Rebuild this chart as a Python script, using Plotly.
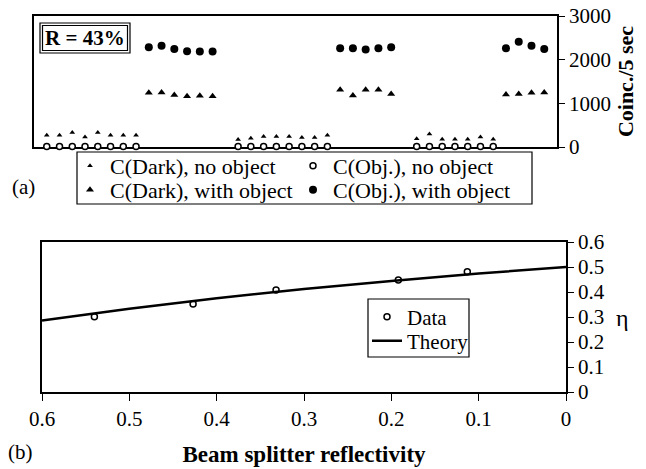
import plotly.graph_objects as go

# ---- Panel (a) data ----
run_no_obj = [0, 1, 2, 3, 4, 5, 6, 7,
              15, 16, 17, 18, 19, 20, 21, 22,
              29, 30, 31, 32, 33, 34, 35]
dark_no_obj = [268, 268, 330, 230, 330, 268, 268, 268,
               170, 200, 240, 240, 240, 220, 220, 270,
               190, 300, 180, 180, 180, 230, 180]
obj_no_obj = [10, 10, 10, 10, 10, 10, 10, 10,
              10, 10, 10, 10, 10, 10, 10, 10,
              10, 10, 10, 10, 10, 10, 10]

run_with_obj = [8, 9, 10, 11, 12, 13,
                23, 24, 25, 26, 27,
                36, 37, 38, 39]
dark_with_obj = [1240, 1250, 1190, 1160, 1175, 1160,
                 1310, 1180, 1310, 1310, 1215,
                 1200, 1215, 1240, 1250]
obj_with_obj = [2285, 2320, 2245, 2190, 2185, 2185,
                2260, 2260, 2230, 2260, 2285,
                2260, 2410, 2320, 2245]

coinc_ticks = [0, 1000, 2000, 3000]

# ---- Panel (b) data ----
R_data = [0.540, 0.427, 0.332, 0.192, 0.113]
eta_data = [0.301, 0.352, 0.408, 0.448, 0.481]
R_theory = [0.6, 0.5, 0.4, 0.3, 0.2, 0.1, 0.0]
eta_theory = [0.286, 0.333, 0.375, 0.412, 0.444, 0.474, 0.500]
R_ticks = [0.6, 0.5, 0.4, 0.3, 0.2, 0.1, 0]
eta_ticks = [0, 0.1, 0.2, 0.3, 0.4, 0.5, 0.6]

W, H = 646, 469
FONT = "Liberation Serif"


def px(x):
    return x / W


def py(y):
    return 1 - y / H


fig = go.Figure()

fig.add_trace(go.Scatter(
    x=run_no_obj, y=dark_no_obj, mode="markers", name="C(Dark), no object",
    marker=dict(symbol="triangle-up", size=5, color="black"),
    xaxis="x", yaxis="y", legend="legend", cliponaxis=False))
fig.add_trace(go.Scatter(
    x=run_no_obj, y=obj_no_obj, mode="markers", name="C(Obj.), no object",
    marker=dict(symbol="circle", size=6, color="white",
                line=dict(color="black", width=1.5)),
    xaxis="x", yaxis="y", legend="legend", cliponaxis=False))
fig.add_trace(go.Scatter(
    x=run_with_obj, y=dark_with_obj, mode="markers", name="C(Dark), with object",
    marker=dict(symbol="triangle-up", size=7, color="black"),
    xaxis="x", yaxis="y", legend="legend3", cliponaxis=False))
fig.add_trace(go.Scatter(
    x=run_with_obj, y=obj_with_obj, mode="markers", name="C(Obj.), with object",
    marker=dict(symbol="circle", size=8, color="black"),
    xaxis="x", yaxis="y", legend="legend3", cliponaxis=False))

fig.add_trace(go.Scatter(
    x=R_data, y=eta_data, mode="markers", name="Data",
    marker=dict(symbol="circle", size=6, color="white",
                line=dict(color="black", width=1.5)),
    xaxis="x2", yaxis="y2", legend="legend2", cliponaxis=False))
fig.add_trace(go.Scatter(
    x=R_theory, y=eta_theory, mode="lines", name="Theory",
    line=dict(color="black", width=2.5),
    xaxis="x2", yaxis="y2", legend="legend4"))

axis_common = dict(showline=True, linecolor="black", linewidth=1.5,
                   mirror=True, showgrid=False, zeroline=False,
                   automargin=False,
                   tickfont=dict(family=FONT, size=21, color="black"),
                   tickcolor="black", layer="below traces")

leg_font = dict(family=FONT, size=22, color="black")
row_leg = dict(orientation="h", xanchor="left", yanchor="middle",
               entrywidth=178, borderwidth=0, bgcolor="rgba(0,0,0,0)",
               font=leg_font, itemsizing="trace", itemwidth=30)
col_leg = dict(xanchor="left", yanchor="middle", borderwidth=0,
               bgcolor="rgba(0,0,0,0)", font=dict(family=FONT, size=21, color="black"),
               itemsizing="trace", itemwidth=30)

fig.update_layout(
    width=W, height=H,
    margin=dict(l=0, r=0, t=0, b=0, autoexpand=False),
    paper_bgcolor="white", plot_bgcolor="white",
    font=dict(family=FONT, size=20, color="black"),
    xaxis=dict(domain=[px(34), px(557)], range=[-1, 40], anchor="y",
               showticklabels=False, ticks="", **axis_common),
    yaxis=dict(domain=[py(147), py(16)], range=[0, 3000], anchor="x",
               side="right", tickvals=coinc_ticks, ticks="outside", ticklen=6,
               title=dict(text="<b>Coinc./5 sec</b>",
                          font=dict(family=FONT, size=22), standoff=8),
               **axis_common),
    xaxis2=dict(domain=[px(42), px(566)], range=[0.6, 0], anchor="y2",
                tickvals=R_ticks, ticktext=["0.6", "0.5", "0.4", "0.3", "0.2", "0.1", "0"],
                ticks="outside", ticklen=7,
                title=dict(text="<b>Beam splitter reflectivity</b>",
                           font=dict(family=FONT, size=23), standoff=16),
                **axis_common),
    yaxis2=dict(domain=[py(392), py(242)], range=[0, 0.6], anchor="x2",
                side="right", tickvals=eta_ticks,
                ticktext=["0", "0.1", "0.2", "0.3", "0.4", "0.5", "0.6"],
                ticks="outside", ticklen=6, **axis_common),
    legend=dict(x=px(70), y=py(166), **row_leg),
    legend3=dict(x=px(70), y=py(190), **row_leg),
    legend2=dict(x=px(367), y=py(317), **col_leg),
    legend4=dict(x=px(367), y=py(341), **col_leg),
    showlegend=True,
)

# legend frames
fig.add_shape(type="rect", xref="paper", yref="paper",
              x0=px(77), x1=px(532), y0=py(204), y1=py(152),
              line=dict(color="black", width=1.2), fillcolor="white")
fig.add_shape(type="rect", xref="paper", yref="paper",
              x0=px(368), x1=px(469), y0=py(357), y1=py(299),
              line=dict(color="black", width=1.2), fillcolor="white")

# R = 43% double-bordered box
fig.add_shape(type="rect", xref="paper", yref="paper",
              x0=px(40), x1=px(130), y0=py(53), y1=py(23),
              line=dict(color="black", width=1.2), fillcolor="white")
fig.add_shape(type="rect", xref="paper", yref="paper",
              x0=px(42.5), x1=px(127.5), y0=py(50.5), y1=py(25.5),
              line=dict(color="black", width=1.2))

ann_common = dict(xref="paper", yref="paper", showarrow=False,
                  xanchor="center", yanchor="middle")
fig.add_annotation(text="<b>R = 43%</b>", x=px(85), y=py(38),
                   font=dict(family=FONT, size=21, color="black"), **ann_common)
fig.add_annotation(text="(a)", x=px(23), y=py(187),
                   font=dict(family=FONT, size=21, color="black"), **ann_common)
fig.add_annotation(text="(b)", x=px(20), y=py(452),
                   font=dict(family=FONT, size=21, color="black"), **ann_common)
fig.add_annotation(text="η", x=px(622), y=py(318),
                   font=dict(family=FONT, size=24, color="black"), **ann_common)

fig.write_html("out.html", config={"displayModeBar": False},
               post_script="document.body.style.margin='0';")
